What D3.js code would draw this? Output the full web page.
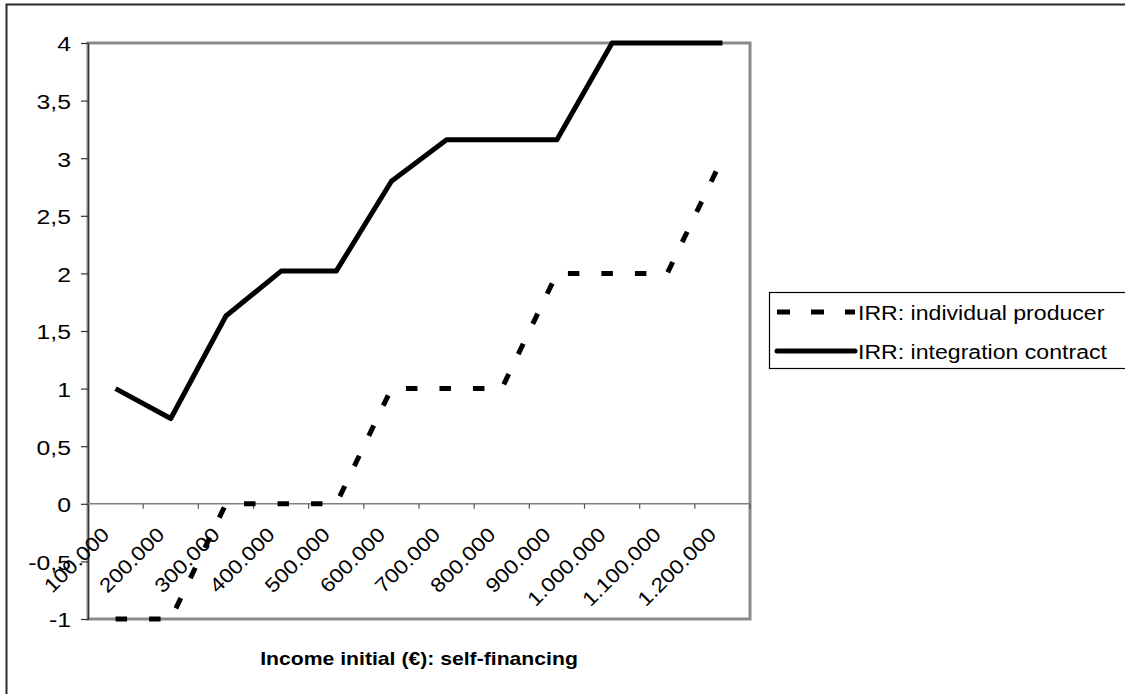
<!DOCTYPE html>
<html>
<head>
<meta charset="utf-8">
<script src="https://cdn.jsdelivr.net/npm/d3@7"></script>
<style>
  html, body { margin: 0; padding: 0; background: #fff; }
  svg { display: block; font-family: "Liberation Sans", Arial, sans-serif; }
</style>
</head>
<body>
<svg id="chart" width="1125" height="694"></svg>
<script>
// Initial self-financed income (€), one category per step
const categories = ["100.000", "200.000", "300.000", "400.000", "500.000", "600.000",
                    "700.000", "800.000", "900.000", "1.000.000", "1.100.000", "1.200.000"];

// Internal rate of return for each financing level
const irrIndividual  = [-1, -1, 0, 0, 0, 1, 1, 1, 2, 2, 2, 3.0];
const irrIntegration = [1.0, 0.74, 1.63, 2.02, 2.02, 2.8, 3.16, 3.16, 3.16, 4, 4, 4];

const yTicks = [-1, -0.5, 0, 0.5, 1, 1.5, 2, 2.5, 3, 3.5, 4];
const seriesNames = ["IRR: individual producer", "IRR: integration contract"];
const xTitle = "Income initial (€): self-financing";

const svg = d3.select("#chart");
const plot = { left: 88, top: 43, right: 750, bottom: 619 };

const x = d3.scaleBand().domain(categories).range([plot.left, plot.right]).padding(0);
const y = d3.scaleLinear().domain([-1, 4]).range([plot.bottom, plot.top]);
const cx = d => x(d) + x.bandwidth() / 2;

const fmt = d3.formatLocale({
  decimal: ",", thousands: ".", grouping: [3], currency: ["", "€"], minus: "-"
}).format("~g");

// Outer chart frame
svg.append("rect")
  .attr("x", 6.5).attr("y", 4.5).attr("width", 1140).attr("height", 720)
  .attr("fill", "none").attr("stroke", "#2a2a2a").attr("stroke-width", 2);

// Plot area frame
svg.append("rect")
  .attr("x", plot.left).attr("y", plot.top)
  .attr("width", plot.right - plot.left).attr("height", plot.bottom - plot.top)
  .attr("fill", "none").attr("stroke", "#8a8a8a").attr("stroke-width", 3);

// Value axis
const yAxis = svg.append("g")
  .attr("transform", `translate(${plot.left},0)`)
  .call(d3.axisLeft(y).tickValues(yTicks).tickSize(7).tickPadding(10).tickFormat(fmt));
yAxis.select(".domain").attr("stroke", "#333").attr("stroke-width", 1.2);
yAxis.selectAll(".tick line").attr("stroke", "#333").attr("stroke-width", 1.2);
const ySx = 1.27;
yAxis.selectAll(".tick text")
  .attr("font-size", 19.5).attr("fill", "#000")
  .attr("font-family", "Liberation Sans, Arial, sans-serif")
  .attr("x", -17 / ySx).attr("dy", "0.4em")
  .attr("transform", `scale(${ySx},1)`);

// Category axis crossing at zero, ticks between categories
const xAxisG = svg.append("g").attr("transform", `translate(0,${y(0)})`);
xAxisG.append("line")
  .attr("x1", plot.left).attr("x2", plot.right)
  .attr("stroke", "#808080").attr("stroke-width", 1.6);
xAxisG.selectAll("line.tick")
  .data(categories)
  .join("line").attr("class", "tick")
  .attr("x1", d => x(d) + x.bandwidth()).attr("x2", d => x(d) + x.bandwidth())
  .attr("y1", 0).attr("y2", 5)
  .attr("stroke", "#555").attr("stroke-width", 1.2);
xAxisG.selectAll("text")
  .data(categories)
  .join("text")
  .attr("transform", d => `translate(${cx(d) - 5},32) rotate(-45) scale(1.14,1)`)
  .attr("text-anchor", "end")
  .attr("font-size", 20)
  .attr("fill", "#000")
  .text(d => d);

// Series lines
const line = d3.line().x((d, i) => cx(categories[i])).y(d => y(d));

svg.append("path")
  .datum(irrIntegration)
  .attr("d", line)
  .attr("fill", "none").attr("stroke", "#000").attr("stroke-width", 5)
  .attr("stroke-linejoin", "round");

svg.append("path")
  .datum(irrIndividual)
  .attr("d", line)
  .attr("fill", "none").attr("stroke", "#000").attr("stroke-width", 5)
  .attr("stroke-dasharray", "11.5,22").attr("stroke-linecap", "butt");

// Axis title
svg.append("text")
  .attr("transform", `translate(${(plot.left + plot.right) / 2},665) scale(1.115,1)`)
  .attr("text-anchor", "middle")
  .attr("font-size", 19).attr("font-weight", "bold").attr("fill", "#000")
  .text(xTitle);

// Legend
const legend = svg.append("g");
legend.append("rect")
  .attr("x", 769.5).attr("y", 292.5).attr("width", 400).attr("height", 76)
  .attr("fill", "#fff").attr("stroke", "#000").attr("stroke-width", 1.2);
const legendRows = [
  { name: seriesNames[0], dash: "13,21", y: 312 },
  { name: seriesNames[1], dash: null, y: 351 }
];
legendRows.forEach(r => {
  legend.append("line")
    .attr("x1", 777).attr("x2", 855).attr("y1", r.y).attr("y2", r.y)
    .attr("stroke", "#000").attr("stroke-width", 5)
    .attr("stroke-dasharray", r.dash).attr("stroke-linecap", r.dash ? "butt" : "round");
  legend.append("text")
    .attr("transform", `translate(858,${r.y + 7.5}) scale(1.1,1)`)
    .attr("font-size", 21).attr("fill", "#000")
    .text(r.name);
});
</script>
</body>
</html>
